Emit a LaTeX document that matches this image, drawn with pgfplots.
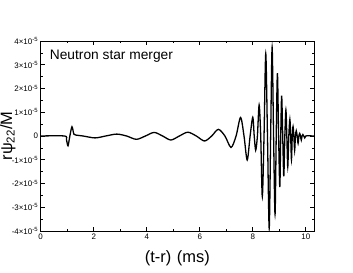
\documentclass[border=0pt]{standalone}
\usepackage{pgfplots}
\pgfplotsset{compat=1.18}
\usepackage{fontspec}
\setmainfont{Liberation Sans}
\begin{document}
\begin{tikzpicture}
\useasboundingbox (-40.7bp,-42bp) rectangle (312.3bp,231bp);
\begin{axis}[
  at={(0,0)}, anchor=south west,
  scale only axis, width=273.3bp, height=190bp,
  xmin=0, xmax=10.31, ymin=-4, ymax=4,
  xtick={0,2,4,6,8,10}, xticklabels={0,2,4,6,8,10}, minor x tick num=1,
  ytick={-4,-3,-2,-1,0,1,2,3,4},
  yticklabels={-4×10\textsuperscript{-5},-3×10\textsuperscript{-5},-2×10\textsuperscript{-5},-1×10\textsuperscript{-5},0,1×10\textsuperscript{-5},2×10\textsuperscript{-5},3×10\textsuperscript{-5},4×10\textsuperscript{-5}},
  minor y tick num=1,
  tick label style={font=\fontsize{8}{9}\selectfont},
  xticklabel style={yshift=1bp},
  yticklabel style={xshift=1bp},
  major tick length=4bp, minor tick length=2.5bp,
  tick style={black, line width=0.6pt},
  axis line style={line width=0.8pt},
  xlabel={(t-r)\hspace{5.5bp}(ms)}, ylabel={rψ\textsubscript{22}/M},
  label style={font=\fontsize{16.5}{19}\selectfont},
  xlabel style={at={(axis description cs:0.5,0)}, anchor=base, yshift=-31.5bp},
  ylabel style={at={(axis description cs:-0.12,0.5)}, anchor=center, rotate=0},
  clip=true,
]
\addplot[black, line width=1.3bp, smooth, tension=0.5] coordinates {
(0,0)(0.9,0)(0.97,-0.15)(1.03,-0.41)(1.1,0)(1.18,0.39)(1.25,0.08)(1.32,0.04)(1.6,0.0)(2.05,-0.08)(2.45,0)(2.87,0.08)(3.24,0)(3.61,-0.14)(3.95,0)(4.28,0.15)(4.6,0)(4.91,-0.17)(5.23,0)(5.55,0.16)(5.87,0)(6.18,-0.21)(6.45,0)(6.7,0.28)(6.95,0)(7.18,-0.48)(7.37,0)(7.54,0.78)(7.67,0)(7.79,-1.01)(7.9,0)(8.0,0.79)(8.055,0)(8.11,-0.6)(8.175,0)(8.24,1.31)(8.30,0)(8.36,-2.55)(8.425,0)(8.49,3.47)(8.555,0)(8.62,-3.89)(8.675,0)(8.73,3.74)(8.785,0)(8.84,-3.3)(8.885,0)(8.93,2.64)(8.975,0)(9.02,-2.15)(9.055,0)(9.09,1.7)(9.13,0)(9.17,-1.7)(9.21,0)(9.25,1.1)(9.285,0)(9.32,-1.3)(9.36,0)(9.40,0.7)(9.43,0)(9.46,-1.0)(9.49,0)(9.52,0.4)(9.55,0)(9.58,-0.6)(9.61,0)(9.64,0.22)(9.675,0)(9.71,-0.31)(9.74,0)(9.77,0.11)(9.80,0)(9.83,-0.17)(9.86,0)(9.89,0.06)(9.925,0)(9.96,-0.08)(10.0,0)(10.05,0.01)(10.31,0)
};
\node[anchor=base west, font=\fontsize{13.8}{16}\selectfont, inner sep=0pt] at (rel axis cs:0.033,0.905) {Neutron star merger};
\end{axis}
\end{tikzpicture}
\end{document}
